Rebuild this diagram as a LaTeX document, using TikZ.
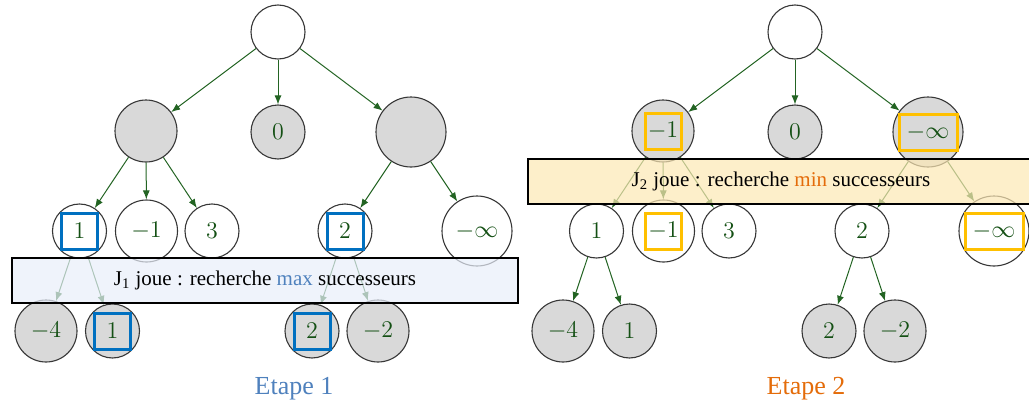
\documentclass[tikz,border=0pt]{standalone}
\usepackage[no-math]{fontspec}
\setmainfont{Liberation Serif}
\usetikzlibrary{arrows.meta}

\definecolor{edgegreen}{RGB}{35,100,35}
\definecolor{valgreen}{RGB}{20,80,20}
\definecolor{nodegray}{RGB}{217,217,217}
\definecolor{rimgray}{RGB}{55,55,55}
\definecolor{maxblue}{RGB}{0,112,192}
\definecolor{minorange}{RGB}{255,192,0}
\definecolor{etapeblue}{RGB}{79,129,189}
\definecolor{etapeorange}{RGB}{228,108,10}
\definecolor{bandblue}{RGB}{232,238,250}
\definecolor{bandyellow}{RGB}{252,232,180}

\tikzset{
  state/.style={circle, draw=rimgray, line width=0.55pt, inner sep=0pt,
    fill=white, text=valgreen, font=\fontsize{13}{15}\selectfont},
  sstate/.style={state, minimum size=27pt},
  mstate/.style={state, minimum size=31pt},
  lstate/.style={state, minimum size=35pt},
  shaded/.style={fill=nodegray},
  edgearrow/.style={draw=edgegreen, line width=0.5pt,
    -{Latex[length=4.5pt,width=3.5pt]}},
  hlbox/.style={draw=#1, line width=1.5pt, inner sep=0pt,
    minimum width=18pt, minimum height=18pt},
  banner/.style={draw=black, line width=0.6pt, fill opacity=0.7,
    text opacity=1, text=black, minimum width=253pt, minimum height=22.5pt,
    inner sep=0pt, font=\fontsize{10.5}{12}\selectfont},
  etape/.style={font=\fontsize{13}{15}\selectfont}
}

\begin{document}
\begin{tikzpicture}[x=0.5pt, y=-0.5pt]
\useasboundingbox (0,0) rectangle (1029,407);

% ---------- Etape 1 ----------
\node[sstate] (a0) at (278,32) {};
\node[mstate, shaded] (a1) at (146,131) {};
\node[sstate, shaded] (a2) at (278,132) {$0$};
\node[lstate, shaded] (a3) at (411,132) {};
\node[sstate] (a11) at (79.5,231) {$1$};
\node[mstate] (a12) at (146.5,231) {$-1$};
\node[sstate] (a13) at (212,231) {$3$};
\node[sstate] (a31) at (345,231) {$2$};
\node[lstate] (a32) at (477,231) {$-\infty$};
\node[mstate, shaded] (a111) at (46,331) {$-4$};
\node[sstate, shaded] (a112) at (112.5,331) {$1$};
\node[sstate, shaded] (a311) at (312,331) {$2$};
\node[mstate, shaded] (a312) at (378,331) {$-2$};

\foreach \p/\c in {a0/a1, a0/a2, a0/a3, a1/a11, a1/a12, a1/a13,
                   a3/a31, a3/a32, a11/a111, a11/a112, a31/a311, a31/a312}
  \draw[edgearrow] (\p) -- (\c);

\node[hlbox=maxblue] (a11box) at (a11) {};
\node[hlbox=maxblue] (a31box) at (a31) {};
\node[hlbox=maxblue] (a112box) at (a112) {};
\node[hlbox=maxblue] (a311box) at (a311) {};

\node[banner, fill=bandblue] (bandA) at (265,280.5)
  {J\textsubscript{1} joue : recherche \textcolor{etapeblue}{max} successeurs};
\node[etape, text=etapeblue] (stageA) at (294,389) {Etape 1};

% ---------- Etape 2 ----------
\node[sstate] (b0) at (795,32) {};
\node[mstate, shaded] (b1) at (663,131) {$-1$};
\node[sstate, shaded] (b2) at (795,132) {$0$};
\node[lstate, shaded] (b3) at (928,132) {$-\infty$};
\node[sstate] (b11) at (596.5,231) {$1$};
\node[mstate] (b12) at (663.5,231) {$-1$};
\node[sstate] (b13) at (729,231) {$3$};
\node[sstate] (b31) at (862,231) {$2$};
\node[lstate] (b32) at (994,231) {$-\infty$};
\node[mstate, shaded] (b111) at (563,331) {$-4$};
\node[sstate, shaded] (b112) at (629.5,331) {$1$};
\node[sstate, shaded] (b311) at (829,331) {$2$};
\node[mstate, shaded] (b312) at (895,331) {$-2$};

\foreach \p/\c in {b0/b1, b0/b2, b0/b3, b1/b11, b1/b12, b1/b13,
                   b3/b31, b3/b32, b11/b111, b11/b112, b31/b311, b31/b312}
  \draw[edgearrow] (\p) -- (\c);

\node[hlbox=minorange] (b1box) at (b1) {};
\node[hlbox=minorange, minimum width=29pt] (b3box) at (b3) {};
\node[hlbox=minorange] (b12box) at (b12) {};
\node[hlbox=minorange, minimum width=29pt] (b32box) at (b32) {};

\node[banner, fill=bandyellow] (bandB) at (781,181.5)
  {J\textsubscript{2} joue : recherche \textcolor{etapeorange}{min} successeurs};
\node[etape, text=etapeorange] (stageB) at (806,389) {Etape 2};
\end{tikzpicture}
\end{document}
